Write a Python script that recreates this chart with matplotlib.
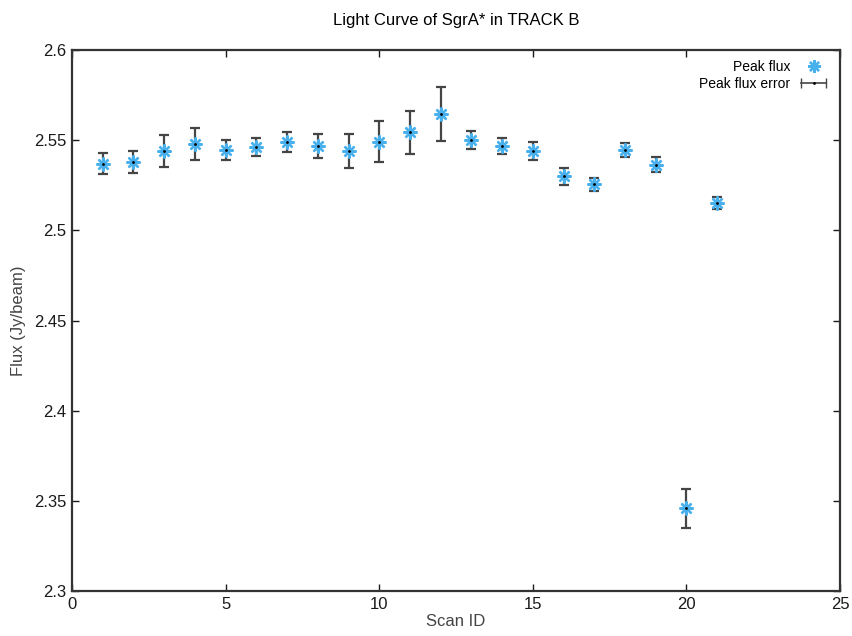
import numpy as np
import matplotlib
matplotlib.use('Agg')
import matplotlib.pyplot as plt
from matplotlib.lines import Line2D
from matplotlib.legend_handler import HandlerLine2D, HandlerTuple

# Data
scan_id = [1, 2, 3, 4, 5, 6, 7, 8, 9, 10, 11, 12, 13, 14, 15, 16, 17, 18, 19, 20, 21]
peak_flux = [2.537, 2.538, 2.544, 2.5477, 2.5447, 2.5462, 2.5492, 2.5468, 2.544, 2.5492,
             2.5543, 2.5647, 2.550, 2.5469, 2.544, 2.530, 2.5255, 2.5445, 2.5365, 2.3458, 2.515]
flux_err = [0.0057, 0.006, 0.009, 0.0089, 0.0056, 0.0052, 0.0055, 0.0067, 0.0095, 0.0112,
            0.0118, 0.015, 0.0049, 0.0045, 0.0052, 0.0048, 0.0037, 0.004, 0.004, 0.011, 0.0034]

plt.rcParams['font.family'] = ['Liberation Sans', 'DejaVu Sans']

star_color = '#48b0ec'
err_color = '#454545'

fig = plt.figure(figsize=(8.52, 6.36), dpi=100)
ax = fig.add_axes([0.0845, 0.0708, 0.9015, 0.8505])

# error bars first, then the asterisk markers on top
ax.errorbar(scan_id, peak_flux, yerr=flux_err, fmt='none', ecolor=err_color,
            elinewidth=1.6, capsize=3.5, capthick=1.6, zorder=2)
ax.plot(scan_id, peak_flux, linestyle='none', marker=(8, 2, 0), markersize=10,
        markeredgewidth=1.7, color=star_color, zorder=3)
ax.plot(scan_id, peak_flux, linestyle='none', marker='.', markersize=2,
        color='black', zorder=4)

ax.set_xlim(0, 25)
ax.set_ylim(2.3, 2.6)
ax.set_xticks(np.arange(0, 26, 5))
ax.set_yticks([2.3, 2.35, 2.4, 2.45, 2.5, 2.55, 2.6])
ax.set_yticklabels(['2.3', '2.35', '2.4', '2.45', '2.5', '2.55', '2.6'])
ax.tick_params(direction='in', top=True, right=True, length=5, width=1,
               labelsize=12, colors='#1a1a1a', pad=4)
for s in ax.spines.values():
    s.set_linewidth(1.6)
    s.set_color('#333333')

ax.set_title('Light Curve of SgrA* in TRACK B', fontsize=12, pad=18)
ax.set_xlabel('Scan ID', fontsize=12, color='#444444', labelpad=2)
ax.set_ylabel('Flux (Jy/beam)', fontsize=12, color='#444444', labelpad=6)

# legend in gnuplot style: text right-aligned, key on the right
h_flux = Line2D([], [], linestyle='none', marker=(8, 2, 0), markersize=9,
                markeredgewidth=1.7, color=star_color)
h_err = Line2D([], [], color=err_color, linewidth=1.2, marker='|', markersize=7)
h_dot = Line2D([], [], linestyle='none', marker='.', markersize=2, color='black')
leg = ax.legend([h_flux, (h_err, h_dot)], ['Peak flux', 'Peak flux error'],
                loc='upper right', frameon=False, markerfirst=False, fontsize=10,
                handlelength=2.4, handletextpad=0.5, labelspacing=0.2,
                borderaxespad=0.3,
                handler_map={h_err: HandlerLine2D(numpoints=2),
                             tuple: HandlerTuple(ndivide=1, pad=0)})
for t in leg.get_texts():
    t.set_ha('right')

fig.savefig('out.png', dpi=100)
